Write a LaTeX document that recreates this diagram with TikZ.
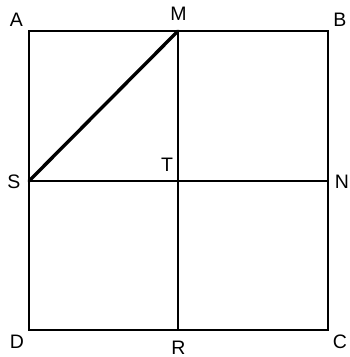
\documentclass[tikz,border=0pt]{standalone}
\usepackage{fontspec}
\setmainfont{Liberation Sans}
\usetikzlibrary{positioning}
\tikzset{
  edge/.style={draw=black, line width=1.7pt},
  boldedge/.style={draw=black, line width=3.4pt, line cap=round},
  ptlabel/.style={font=\fontsize{19.5}{19.5}\selectfont, inner sep=0pt}
}
\begin{document}
\begin{tikzpicture}[x=1pt, y=-1pt]
  \useasboundingbox (0,0) rectangle (350,357);
  % corner and midpoint coordinates
  \foreach \name/\xpos/\ypos in {A/29/31, M/178/31, B/328/31, S/29/181, T/178/181, N/328/181, D/29/330, R/178/330, C/328/330} {
    \coordinate (\name) at (\xpos, \ypos);
  }
  % labels
  \foreach \name/\xpos/\ypos in {A/16.5/19.5, M/178.5/14, B/340/19.5, S/14/181.5, T/167/164.5, N/342/181.5, D/17/342, R/178.5/347.5, C/340/342} {
    \node[ptlabel] (l\name) at (\xpos, \ypos) {\name};
  }
  \draw[edge] (A) -- (B) -- (C) -- (D) -- cycle;
  \draw[edge] (M) -- (R);
  \draw[edge] (S) -- (N);
  \draw[boldedge] (S) -- (M);
\end{tikzpicture}
\end{document}
